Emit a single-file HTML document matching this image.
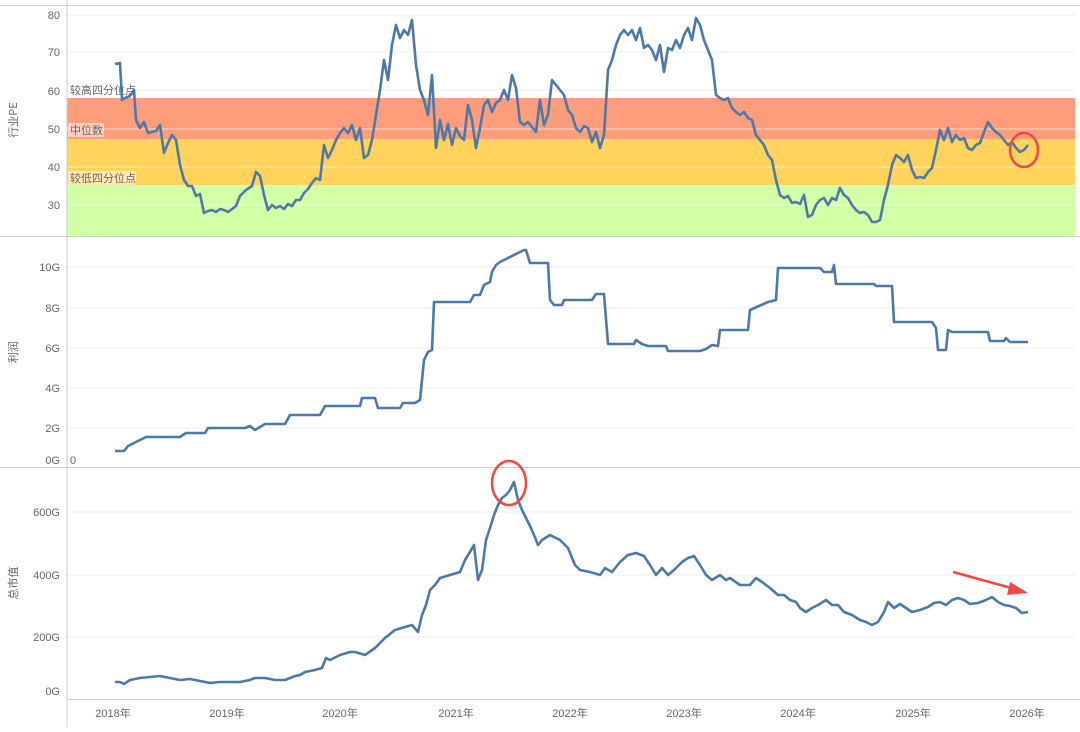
<!DOCTYPE html>
<html><head><meta charset="utf-8"><style>
html,body{margin:0;padding:0;background:#fff;}
svg text{font-family:"Liberation Sans","Noto Sans CJK SC",sans-serif;fill:#666;font-size:11px;}
.cj{font-family:"Noto Sans CJK SC",sans-serif;}
</style></head><body>
<svg width="1080" height="727" viewBox="0 0 1080 727" xmlns="http://www.w3.org/2000/svg">
<rect width="1080" height="727" fill="#fff"/>
<!-- panel 1 bands -->
<rect x="67" y="98" width="1008" height="41" fill="#fe9d7c"/>
<rect x="67" y="139" width="1008" height="46" fill="#ffd35c"/>
<rect x="67" y="185" width="1008" height="51" fill="#d3ffa6"/>
<g stroke="#eee" stroke-width="1">
<line x1="67" y1="15" x2="1075" y2="15"/><line x1="67" y1="52" x2="1075" y2="52"/><line x1="67" y1="90" x2="1075" y2="90"/>
<line x1="67" y1="267" x2="1075" y2="267"/><line x1="67" y1="308" x2="1075" y2="308"/><line x1="67" y1="348" x2="1075" y2="348"/><line x1="67" y1="388" x2="1075" y2="388"/><line x1="67" y1="428" x2="1075" y2="428"/>
<line x1="67" y1="512" x2="1075" y2="512"/><line x1="67" y1="575" x2="1075" y2="575"/><line x1="67" y1="637" x2="1075" y2="637"/>
</g>
<g stroke="#fff" stroke-opacity="0.6" stroke-width="1">
<line x1="67" y1="129" x2="1075" y2="129"/><line x1="67" y1="167" x2="1075" y2="167"/><line x1="67" y1="205" x2="1075" y2="205"/>
</g>
<!-- band labels -->
<rect x="68" y="83" width="66" height="14" fill="#fff" fill-opacity="0.5"/>
<text x="70" y="94" class="cj">较高四分位点</text>
<rect x="68" y="123" width="36" height="14" fill="#fff" fill-opacity="0.5"/>
<text x="70" y="134" class="cj">中位数</text>
<rect x="68" y="171" width="68" height="14" fill="#fff" fill-opacity="0.5"/>
<text x="70" y="182" class="cj">较低四分位点</text>
<!-- axes -->
<g stroke="#ccc" stroke-width="1">
<line x1="67" y1="0" x2="67" y2="727"/>
<line x1="0" y1="5.5" x2="1080" y2="5.5"/>
<line x1="0" y1="236.5" x2="1080" y2="236.5"/>
<line x1="0" y1="467.5" x2="1080" y2="467.5"/>
<line x1="67" y1="699.5" x2="1080" y2="699.5"/>
</g>
<g text-anchor="end" font-size="12">
<text x="60" y="19">80</text><text x="60" y="56">70</text><text x="60" y="95">60</text><text x="60" y="133">50</text><text x="60" y="171">40</text><text x="60" y="209">30</text>
<text x="60" y="271">10G</text><text x="60" y="312">8G</text><text x="60" y="352">6G</text><text x="60" y="392">4G</text><text x="60" y="432">2G</text><text x="60" y="464">0G</text>
<text x="60" y="516">600G</text><text x="60" y="579">400G</text><text x="60" y="641">200G</text><text x="60" y="695">0G</text>
</g>
<text x="70" y="464">0</text>
<text transform="translate(17,120) rotate(-90)" text-anchor="middle" class="cj">行业PE</text>
<text transform="translate(17,352) rotate(-90)" text-anchor="middle" class="cj">利润</text>
<text transform="translate(17,583) rotate(-90)" text-anchor="middle" class="cj">总市值</text>
<g text-anchor="middle">
<text x="113" y="717">2018年</text><text x="227" y="717">2019年</text><text x="340" y="717">2020年</text><text x="456" y="717">2021年</text><text x="570" y="717">2022年</text><text x="684" y="717">2023年</text><text x="798" y="717">2024年</text><text x="913" y="717">2025年</text><text x="1027" y="717">2026年</text>
</g>
<g fill="none" stroke="#4e79a7" stroke-width="2.6" stroke-linejoin="round">
<polyline points="115,64 120,63 122,100 125,98 130,96 134,90 136,120 140,128 144,122 148,133 152,132 156,131 160,125 164,153 168,143 172,135 176,140 180,165 184,180 188,186 192,186 196,196 200,194 204,213 208,211 212,210 216,212 220,209 224,210 228,212 232,209 236,206 240,196 246,190 252,186 256,172 260,176 264,195 268,210 272,205 276,208 280,206 284,209 288,204 292,206 296,200 300,200 304,193 308,189 312,183 316,178 320,180 324,145 328,158 332,150 336,140 340,133 344,128 348,133 352,125 356,140 360,128 364,158 368,155 372,140 376,115 380,90 384,60 388,80 392,45 396,25 400,38 404,30 408,35 412,20 416,65 420,90 424,100 428,115 432,75 436,148 440,120 444,140 448,124 452,145 456,128 460,136 464,140 468,105 472,120 476,148 480,128 484,105 488,100 492,112 496,103 500,100 504,90 508,100 512,75 516,88 520,122 524,125 528,122 532,127 536,132 540,100 544,125 548,115 552,80 556,85 560,90 564,95 568,110 572,115 576,128 580,132 584,126 588,128 592,142 596,132 600,148 604,135 608,70 612,60 616,45 620,35 624,30 628,35 632,30 636,40 640,28 644,48 648,45 652,50 656,60 660,45 664,72 668,48 672,50 676,40 680,48 684,35 688,28 692,40 696,18 700,25 704,40 708,50 712,60 716,95 720,98 724,100 728,98 732,108 736,112 740,115 744,112 748,118 752,120 756,135 760,140 764,145 768,155 772,160 776,180 780,195 784,198 788,196 792,203 796,202 800,204 804,195 808,217 812,215 816,205 820,200 824,198 828,205 832,198 836,200 840,188 844,195 848,198 852,205 856,210 860,213 864,212 868,215 872,222 876,222 880,220 884,200 888,185 892,165 896,155 900,158 904,162 908,155 912,170 916,178 920,177 924,178 928,172 932,168 936,150 940,130 944,140 948,128 952,142 956,135 960,140 964,138 968,148 972,150 976,145 980,143 984,132 988,122 992,128 996,132 1000,135 1004,140 1008,145 1012,142 1016,148 1020,152 1024,150 1028,145"/>
<polyline points="115,451 124,451 128,446 134,443 140,440 146,437 152,437 180,437 186,433 205,433 208,428 245,428 250,426 255,430 260,427 265,424 285,424 290,415 320,415 325,406 360,406 362,398 375,398 378,408 400,408 403,403 415,403 420,400 424,360 428,352 432,350 434,302 470,302 474,295 480,295 484,285 490,282 492,272 496,265 500,262 508,258 520,252 524,250 526,250 530,263 548,263 550,300 554,305 562,305 564,300 592,300 596,294 604,294 608,344 634,344 636,340 642,344 648,346 666,346 668,351 700,351 706,349 712,345 718,346 720,330 748,330 750,310 768,302 776,300 778,268 820,268 824,272 832,272 834,265 836,284 874,284 876,286 892,286 894,322 932,322 936,328 938,350 946,350 948,330 952,332 988,332 990,341 1004,341 1006,338 1010,342 1028,342"/>
<polyline points="115,682 120,682 124,684 130,680 140,678 150,677 160,676 170,678 180,680 190,679 200,681 210,683 220,682 230,682 240,682 250,680 255,678 265,678 275,680 285,680 295,676 300,675 305,672 315,670 322,668 326,658 330,660 340,655 350,652 355,652 365,655 375,648 385,638 395,630 405,627 412,625 418,632 422,615 426,605 430,590 435,585 440,578 450,575 460,572 465,560 470,552 474,545 478,580 482,570 486,540 490,528 494,515 498,505 502,498 506,495 510,490 514,482 518,500 522,510 526,518 530,526 534,535 538,545 542,540 550,535 560,540 568,548 575,565 580,570 590,572 600,575 605,568 612,572 620,562 628,555 636,553 644,556 650,565 656,575 662,568 668,575 674,570 682,562 688,558 694,556 700,565 706,575 712,580 720,575 726,580 730,578 740,585 750,585 756,578 762,582 770,588 778,595 784,595 790,600 796,602 800,608 806,612 812,608 818,605 826,600 832,605 838,605 844,612 852,615 860,620 866,622 872,625 878,622 884,612 888,602 894,608 900,604 906,608 912,612 920,610 928,607 934,603 940,602 946,605 952,600 958,598 964,600 970,604 978,603 986,600 992,597 998,602 1004,605 1010,606 1016,608 1022,613 1028,612"/>
</g>
<g fill="none" stroke="#f04848" stroke-width="2.5">
<ellipse cx="1024" cy="150" rx="14" ry="17"/>
<ellipse cx="509" cy="483" rx="17" ry="22"/>
<line x1="953" y1="572" x2="1015" y2="589"/>
</g>
<polygon points="1028,593 1010,582 1007,595" fill="#f04848"/>
</svg>
</body></html>
